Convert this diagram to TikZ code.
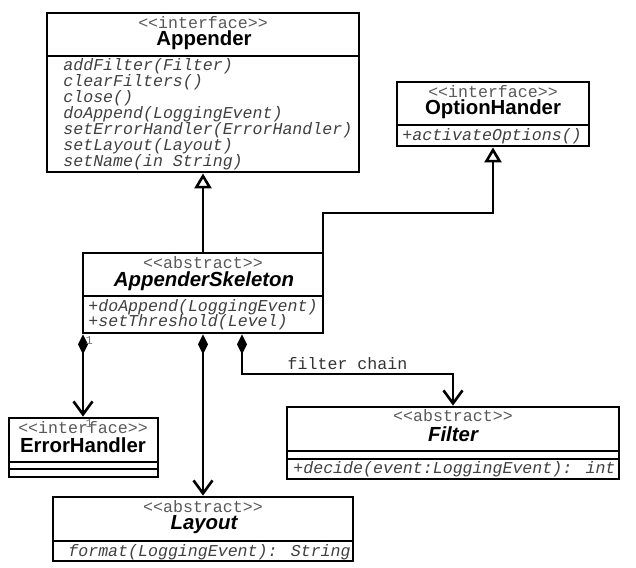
\documentclass[tikz,border=0pt]{standalone}
\usepackage{fontspec}
\usetikzlibrary{arrows.meta,fit}
\newfontfamily\umlsans{Liberation Sans}
\newfontfamily\umlmono{Liberation Mono}[Ligatures=TeXOff]

\begin{document}
\begin{tikzpicture}[x=0.5pt,y=-0.5pt,
  cls/.style={draw,line width=1.4pt,inner sep=0pt},
  stereo/.style={font=\umlmono\fontsize{8.3}{10}\selectfont,text=black!65,inner sep=0pt},
  cname/.style={font=\umlsans\bfseries\fontsize{10.2}{12}\selectfont,inner sep=0pt},
  op/.style={font=\umlmono\itshape\fontsize{8.3}{10}\selectfont,text=black!75,anchor=west,inner sep=0pt},
  chain/.style={font=\umlmono\fontsize{8.3}{10}\selectfont,text=black!80,inner sep=0pt},
  mult/.style={font=\umlmono\fontsize{6}{7}\selectfont,text=black!55,inner sep=0.6pt},
  inherit/.style={line width=1.3pt,-{Triangle[open,length=7.5pt,width=8.5pt]}},
  compose/.style={line width=1.3pt,{Diamond[length=10pt,width=5pt]}-{Straight Barb[length=6.5pt,width=9.5pt]}}]
\useasboundingbox[fill=white] (0,0) rectangle (636,567);

% Appender
\node[cls,fit={(47,13) (359,172)}] (appender) {};
\draw[line width=1.4pt] (47,56) -- (359,56);
\node[stereo] (appenderStereo) at (203,23) {<<interface>>};
\node[cname] (appenderName) at (204,40) {Appender};
\foreach \meth [count=\i] in {addFilter(Filter),clearFilters(),close(),doAppend(LoggingEvent),setErrorHandler(ErrorHandler),setLayout(Layout),setName(in String)}
  \node[op] (appenderOp\i) at (63,50+16*\i) {\meth};

% OptionHander
\node[cls,fit={(397,82) (589,146)}] (optHandler) {};
\draw[line width=1.4pt] (397,125) -- (589,125);
\node[stereo] (optStereo) at (493,92) {<<interface>>};
\node[cname] (optName) at (493,109) {OptionHander};
\node[op] (optOp) at (402,136) {+activateOptions()};

% AppenderSkeleton
\node[cls,fit={(83,253) (323,333)}] (skeleton) {};
\draw[line width=1.4pt] (83,296) -- (323,296);
\node[stereo] (skeletonStereo) at (203,263) {<<abstract>>};
\node[cname,font=\umlsans\bfseries\itshape\fontsize{10.2}{12}\selectfont] (skeletonName) at (204,281) {AppenderSkeleton};
\node[op] (skeletonOp1) at (88,307) {+doAppend(LoggingEvent)};
\node[op] (skeletonOp2) at (88,322) {+setThreshold(Level)};

% ErrorHandler
\node[cls,fit={(9,418) (158,477)}] (errorHandler) {};
\draw[line width=1.4pt] (9,462) -- (158,462);
\draw[line width=1.4pt] (9,469) -- (158,469);
\node[stereo] (errorStereo) at (83,428) {<<interface>>};
\node[cname] (errorName) at (83,445) {ErrorHandler};

% Filter
\node[cls,fit={(287,407) (619,479)}] (filter) {};
\draw[line width=1.4pt] (287,451) -- (619,451);
\draw[line width=1.4pt] (287,459) -- (619,459);
\node[stereo] (filterStereo) at (453,416) {<<abstract>>};
\node[cname,font=\umlsans\bfseries\itshape\fontsize{10.2}{12}\selectfont] (filterName) at (453,434) {Filter};
\node[op] (filterOp) at (293,469) {+decide(event:LoggingEvent): int};

% Layout
\node[cls,fit={(53,497) (353,561)}] (layout) {};
\draw[line width=1.4pt] (53,541) -- (353,541);
\node[stereo] (layoutStereo) at (203,507) {<<abstract>>};
\node[cname,font=\umlsans\bfseries\itshape\fontsize{10.2}{12}\selectfont] (layoutName) at (204,525) {Layout};
\node[op] (layoutOp) at (68,552) {format(LoggingEvent): String};

% generalisations
\coordinate (optBend) at (493,213);
\draw[inherit] (skeleton.north) -- (appender.south);
\draw[inherit] ([xshift=-0.7pt]skeleton.north east) |- (optBend) -- (optHandler.south);

% compositions
\coordinate (chainBend) at (453,374);
\draw[compose] ([xshift=0.7pt]skeleton.south west) -- ([xshift=0.7pt]skeleton.south west |- errorHandler.north)
  node[mult,at start,anchor=north west] (multTop) {1}
  node[mult,at end,anchor=north west] (multEnd) {1};
\draw[compose] (skeleton.south) -- (layout.north);
\draw[compose] ([xshift=19.5pt]skeleton.south) |- node[chain,pos=0.75,above=1.3pt] (chainLabel) {filter chain} (chainBend) -- (filter.north);
\end{tikzpicture}
\end{document}
